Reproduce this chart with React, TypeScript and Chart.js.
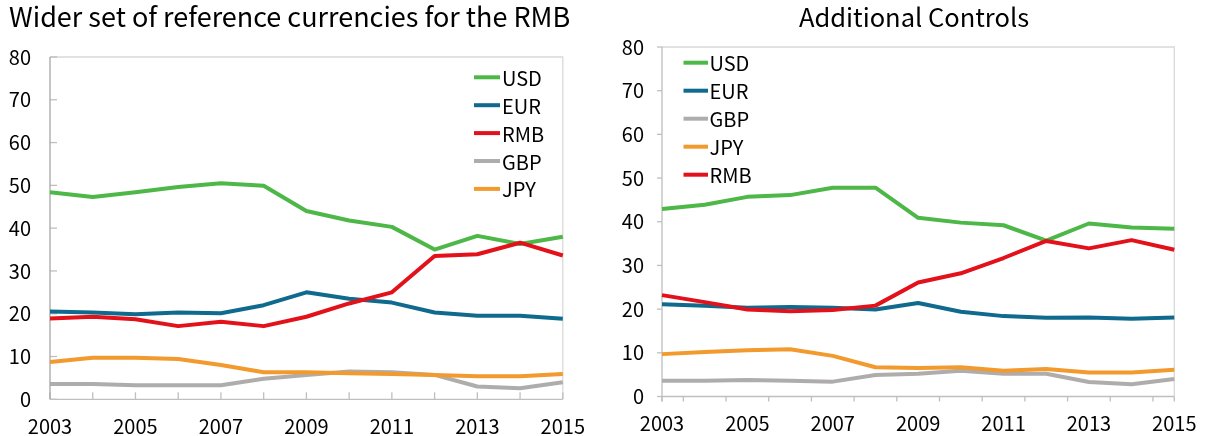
import React, { useEffect, useRef } from "react";
import { Chart, registerables } from "chart.js";

Chart.register(...registerables);

// ---------- data ----------
const years = ["2003", "2004", "2005", "2006", "2007", "2008", "2009", "2010", "2011", "2012", "2013", "2014", "2015"];

// Left panel: Wider set of reference currencies for the RMB
const leftUSD = [48.4, 47.3, 48.4, 49.6, 50.5, 49.9, 44.0, 41.8, 40.3, 35.0, 38.2, 36.3, 38.0];
const leftEUR = [20.5, 20.3, 19.9, 20.3, 20.1, 22.0, 25.0, 23.5, 22.6, 20.3, 19.5, 19.5, 18.8];
const leftRMB = [18.9, 19.3, 18.7, 17.1, 18.1, 17.1, 19.3, 22.4, 25.0, 33.5, 33.9, 36.6, 33.6];
const leftGBP = [3.6, 3.6, 3.3, 3.3, 3.3, 4.8, 5.7, 6.5, 6.3, 5.7, 3.0, 2.6, 4.0];
const leftJPY = [8.7, 9.7, 9.7, 9.4, 8.0, 6.3, 6.3, 6.1, 5.9, 5.7, 5.4, 5.4, 5.9];

// Right panel: Additional Controls
const rightUSD = [42.9, 43.9, 45.7, 46.1, 47.8, 47.8, 40.9, 39.8, 39.2, 35.7, 39.6, 38.7, 38.4];
const rightEUR = [21.1, 20.8, 20.3, 20.5, 20.3, 19.9, 21.4, 19.4, 18.4, 18.0, 18.1, 17.8, 18.1];
const rightGBP = [3.6, 3.6, 3.8, 3.6, 3.4, 4.9, 5.2, 5.9, 5.2, 5.2, 3.3, 2.8, 4.0];
const rightJPY = [9.7, 10.2, 10.6, 10.8, 9.3, 6.7, 6.5, 6.7, 5.9, 6.3, 5.5, 5.5, 6.1];
const rightRMB = [23.2, 21.6, 19.9, 19.5, 19.8, 20.8, 26.1, 28.2, 31.7, 35.6, 33.9, 35.8, 33.6];

const yMin = 0;
const yMax = 80;
const yStep = 10;

// ---------- styles ----------
const FONT = "'Noto Sans CJK KR', 'Noto Sans', sans-serif";
const COLORS: Record<string, string> = {
  USD: "#4DB748",
  EUR: "#0F6A8D",
  RMB: "#E3111A",
  GBP: "#AFACAC",
  JPY: "#F29A2E",
};

type Series = { name: string; values: number[] };

const decorPlugin = {
  id: "decor",
  beforeDatasetsDraw(chart: any, _args: any, opts: any) {
    const { ctx, chartArea: a, scales } = chart;
    const xs = scales.x;
    const ys = scales.y;
    ctx.save();
    ctx.lineWidth = 1.3;
    // frame (top/right)
    ctx.strokeStyle = opts.frameColor;
    ctx.beginPath();
    ctx.moveTo(a.left, a.top);
    ctx.lineTo(a.right, a.top);
    ctx.lineTo(a.right, a.bottom);
    ctx.stroke();
    // x axis line
    ctx.strokeStyle = opts.xAxisColor;
    ctx.beginPath();
    ctx.moveTo(a.left, a.bottom);
    ctx.lineTo(a.right, a.bottom);
    ctx.stroke();
    // y ticks
    ctx.strokeStyle = opts.tickColor;
    const yDir = opts.yInside ? 1 : -1;
    ys.ticks.forEach((_t: any, i: number) => {
      const py = ys.getPixelForTick(i);
      ctx.beginPath();
      ctx.moveTo(a.left, py);
      ctx.lineTo(a.left + yDir * opts.tickLen, py);
      ctx.stroke();
    });
    // x ticks
    const n = xs.ticks.length;
    const px: number[] = [];
    if (opts.xBetween) {
      for (let i = 0; i < n - 1; i++) px.push((xs.getPixelForTick(i) + xs.getPixelForTick(i + 1)) / 2);
      px.push(a.left, a.right);
    } else {
      for (let i = 0; i < n; i++) px.push(xs.getPixelForTick(i));
    }
    const xDir = opts.xInside ? -1 : 1;
    px.forEach((x: number) => {
      ctx.beginPath();
      ctx.moveTo(x, a.bottom);
      ctx.lineTo(x, a.bottom + xDir * opts.tickLen);
      ctx.stroke();
    });
    // y axis line
    ctx.strokeStyle = opts.yAxisColor;
    ctx.beginPath();
    ctx.moveTo(a.left, a.top);
    ctx.lineTo(a.left, a.bottom + (opts.xInside ? 0 : opts.tickLen));
    ctx.stroke();
    ctx.restore();
  },
  afterDatasetsDraw(chart: any, _args: any, opts: any) {
    const { ctx } = chart;
    const lg = opts.legend;
    ctx.save();
    // legend
    ctx.font = `20px ${FONT}`;
    ctx.textAlign = "left";
    ctx.textBaseline = "middle";
    chart.data.datasets.forEach((ds: any, i: number) => {
      const y = lg.y + i * lg.step;
      ctx.strokeStyle = ds.borderColor;
      ctx.lineWidth = ds.borderWidth;
      ctx.lineCap = "butt";
      ctx.beginPath();
      ctx.moveTo(lg.x, y);
      ctx.lineTo(lg.x + lg.lineLen, y);
      ctx.stroke();
      ctx.fillStyle = "#000";
      ctx.fillText(ds.label, lg.x + lg.lineLen + lg.gap, y + 1);
    });
    // panel title
    const t = opts.title;
    ctx.font = `${t.size}px ${FONT}`;
    ctx.textAlign = t.align;
    ctx.textBaseline = "alphabetic";
    ctx.fillStyle = "#000";
    ctx.fillText(t.text, t.x, t.baseline);
    ctx.restore();
  },
};

type PanelSpec = {
  left: number;
  width: number;
  series: Series[];
  padR: number;
  padTop: number;
  yAxisWidth: number;
  yLabelPad: number;
  xAxisHeight: number;
  xLabelPad: number;
  decor: any;
};

function Panel({ spec }: { spec: PanelSpec }) {
  const ref = useRef<HTMLCanvasElement>(null);
  useEffect(() => {
    const n = spec.series.length;
    const chart = new Chart(ref.current as HTMLCanvasElement, {
      type: "line",
      data: {
        labels: years,
        datasets: spec.series.map((s, i) => ({
          label: s.name,
          data: s.values,
          borderColor: COLORS[s.name],
          backgroundColor: COLORS[s.name],
          borderWidth: 4,
          pointRadius: 0,
          pointHoverRadius: 0,
          tension: 0,
          fill: false,
          borderJoinStyle: "round" as const,
          order: n - i,
        })),
      },
      options: {
        responsive: false,
        animation: false,
        devicePixelRatio: 1,
        layout: { padding: { left: 0, right: spec.padR, top: spec.padTop, bottom: 0 } },
        scales: {
          x: {
            type: "category",
            offset: false,
            grid: { display: false, drawTicks: false },
            border: { display: false },
            ticks: {
              autoSkip: false,
              maxRotation: 0,
              minRotation: 0,
              padding: spec.xLabelPad,
              color: "#000",
              font: { family: FONT, size: 20 },
              callback: (_v: any, i: number) => (i % 2 === 0 ? years[i] : ""),
            },
            afterFit: (s: any) => {
              s.height = spec.xAxisHeight;
            },
          },
          y: {
            min: yMin,
            max: yMax,
            grid: { display: false, drawTicks: false },
            border: { display: false },
            ticks: {
              stepSize: yStep,
              padding: spec.yLabelPad,
              color: "#000",
              font: { family: FONT, size: 20 },
            },
            afterFit: (s: any) => {
              s.width = spec.yAxisWidth;
            },
          },
        },
        plugins: {
          legend: { display: false },
          tooltip: { enabled: false },
          title: { display: false },
          decor: spec.decor,
        } as any,
      },
      plugins: [decorPlugin],
    } as any);
    return () => chart.destroy();
  }, []);
  return (
    <canvas
      ref={ref}
      width={spec.width}
      height={436}
      style={{ position: "absolute", left: spec.left, top: 0, width: spec.width, height: 436, display: "block" }}
    />
  );
}

const leftSpec: PanelSpec = {
  left: 0,
  width: 600,
  series: [
    { name: "USD", values: leftUSD },
    { name: "EUR", values: leftEUR },
    { name: "RMB", values: leftRMB },
    { name: "GBP", values: leftGBP },
    { name: "JPY", values: leftJPY },
  ],
  padR: 34,
  padTop: 57,
  yAxisWidth: 50,
  yLabelPad: 19,
  xAxisHeight: 36.7,
  xLabelPad: 15,
  decor: {
    frameColor: "#D9D9D9",
    xAxisColor: "#BFBFBF",
    yAxisColor: "#A6A6A6",
    tickColor: "#BFBFBF",
    tickLen: 7,
    xInside: true,
    yInside: true,
    xBetween: false,
    legend: { x: 474, y: 77.3, step: 27.9, lineLen: 26, gap: 2 },
    title: { text: "Wider set of reference currencies for the RMB", x: 9, baseline: 26.5, align: "left", size: 27 },
  },
};

const rightSpec: PanelSpec = {
  left: 610,
  width: 601,
  series: [
    { name: "USD", values: rightUSD },
    { name: "EUR", values: rightEUR },
    { name: "GBP", values: rightGBP },
    { name: "JPY", values: rightJPY },
    { name: "RMB", values: rightRMB },
  ],
  padR: 29,
  padTop: 47,
  yAxisWidth: 52,
  yLabelPad: 18,
  xAxisHeight: 39.5,
  xLabelPad: 14.5,
  decor: {
    frameColor: "#D9D9D9",
    xAxisColor: "#BFBFBF",
    yAxisColor: "#BFBFBF",
    tickColor: "#BFBFBF",
    tickLen: 5,
    xInside: false,
    yInside: false,
    xBetween: true,
    legend: { x: 73.5, y: 62.7, step: 28, lineLen: 24.5, gap: 1.5 },
    title: { text: "Additional Controls", x: 304, baseline: 26.5, align: "center", size: 25.5 },
  },
};

export default function App() {
  return (
    <div style={{ position: "absolute", left: 0, top: 0, width: 1211, height: 436 }}>
      <Panel spec={leftSpec} />
      <Panel spec={rightSpec} />
    </div>
  );
}
